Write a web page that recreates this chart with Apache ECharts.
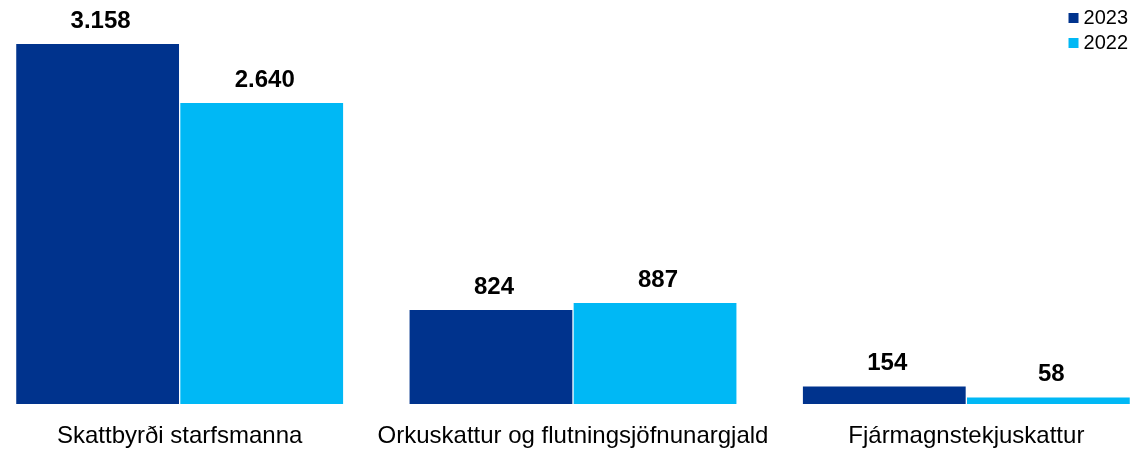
<!DOCTYPE html>
<html>
<head>
<meta charset="utf-8">
<script src="https://cdn.jsdelivr.net/npm/echarts@6/dist/echarts.min.js"></script>
<style>
  html, body { margin: 0; padding: 0; background: #fff; overflow: hidden; }
  /* plotið nær aðeins út fyrir gluggann eins og í fyrirmyndinni */
  #chart { position: relative; left: -17px; width: 1180px; height: 449px; }
</style>
</head>
<body>
<div id="chart"></div>
<script>
// gögn
const categories = ['Skattbyrði starfsmanna', 'Orkuskattur og flutningsjöfnunargjald', 'Fjármagnstekjuskattur'];
const years = ['2023', '2022'];
const values2023 = [3158, 824, 154];
const values2022 = [2640, 887, 58];

const colors = ['#00338D', '#00B8F5'];

function fmt(v) {
    // íslenskur þúsundaskilur
    return String(v).replace(/\B(?=(\d{3})+(?!\d))/g, '.');
}

let chart = echarts.init(document.getElementById('chart'));

let seriesData = [values2023, values2022];
let series = [];
for (let i = 0; i < years.length; i++) {
    series.push({
        name: years[i],
        type: 'bar',
        data: seriesData[i],
        barGap: '0.8%',
        barCategoryGap: '16.9%',
        itemStyle: { color: colors[i] },
        label: {
            show: true,
            position: 'top',
            distance: 11,
            offset: [3, 0],
            color: '#000',
            fontWeight: 'bold',
            fontSize: 24,
            fontFamily: 'Liberation Sans, Arial, sans-serif',
            formatter: p => fmt(p.value)
        }
    });
}

let option = {
    animation: false,
    textStyle: { fontFamily: 'Liberation Sans, Arial, sans-serif' },
    legend: {
        orient: 'vertical',
        right: 30,
        top: 3,
        itemWidth: 10,
        itemHeight: 10,
        itemGap: 5,
        icon: 'rect',
        textStyle: { fontSize: 20, color: '#000' },
        data: years
    },
    grid: {
        left: 0,
        right: 0,
        top: 44,
        bottom: 45,
        containLabel: false
    },
    xAxis: {
        type: 'category',
        data: categories,
        axisLine: { show: false },
        axisTick: { show: false },
        axisLabel: {
            color: '#000',
            fontSize: 24,
            margin: 20,
            interval: 0
        }
    },
    yAxis: {
        type: 'value',
        min: 0,
        max: 3158,
        show: false,
        splitLine: { show: false }
    },
    series: series
};

chart.setOption(option);
</script>
</body>
</html>
